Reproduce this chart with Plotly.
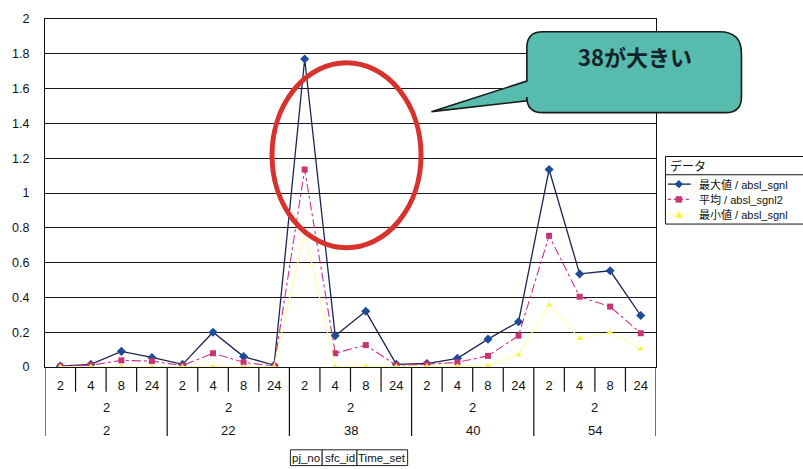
import plotly.graph_objects as go

# ---- data -------------------------------------------------------------
pj_no = ["2", "22", "38", "40", "54"]
sfc_id = ["2", "2", "2", "2", "2"]
time_set = ["2", "4", "8", "24"]

max_vals = [0.005, 0.015, 0.09, 0.055, 0.015, 0.20, 0.06, 0.01,
            1.77, 0.18, 0.32, 0.015, 0.02, 0.05, 0.16, 0.26,
            1.135, 0.535, 0.553, 0.296]
avg_vals = [0.004, 0.01, 0.038, 0.034, 0.008, 0.079, 0.027, 0.005,
            1.135, 0.079, 0.126, 0.01, 0.015, 0.027, 0.064, 0.18,
            0.754, 0.404, 0.347, 0.194]
min_vals = [0.001, 0.002, 0.002, 0.002, 0.002, 0.002, 0.002, 0.002,
            0.78, 0.003, 0.003, 0.003, 0.004, 0.005, 0.008, 0.07,
            0.357, 0.164, 0.198, 0.104]

series_names = ["最大値 / absl_sgnl", "平均 / absl_sgnl2", "最小値 / absl_sgnl"]
callout_text = "38が大きい"
field_buttons = ["pj_no", "sfc_id", "Time_set"]

tick_text = [t for _ in pj_no for t in time_set]
xpos = list(range(len(tick_text)))
n_per_group = len(time_set)

# ---- geometry of the plotting area (pixels) ------------------------------
W, H = 803, 469
PL, PR, PT, PB = 41, 656, 14, 367


def px(x):
    return (x - PL) / (PR - PL)


def py(y):
    return (PB - y) / (PB - PT)


def P(x, y):
    return f"{px(x):.5f},{py(y):.5f}"


JP = "Noto Sans CJK JP"
LAT = "Liberation Sans, Arial, sans-serif"
MIX = "Liberation Sans, Noto Sans CJK JP, sans-serif"


def label(x, y, text, xref="paper", xanchor="center", size=13, family=LAT,
          color="#111"):
    return dict(x=x, y=y, xref=xref, yref="paper", text=text, showarrow=False,
                xanchor=xanchor, yanchor="middle",
                font=dict(family=family, size=size, color=color))


fig = go.Figure()

fig.add_trace(go.Scatter(
    x=xpos, y=max_vals, name=series_names[0], mode="lines+markers",
    line=dict(color="#1c2552", width=1.3),
    marker=dict(symbol="diamond", size=7, color="#1d4b96"),
))
fig.add_trace(go.Scatter(
    x=xpos, y=avg_vals, name=series_names[1], mode="lines+markers",
    line=dict(color="#cc3388", width=1.1, dash="dashdot"),
    marker=dict(symbol="square", size=6, color="#c83577"),
))
fig.add_trace(go.Scatter(
    x=xpos, y=min_vals, name=series_names[2], mode="lines+markers",
    line=dict(color="#ffffa8", width=1.1),
    marker=dict(symbol="triangle-up", size=6, color="#f6f24a"),
))

shapes = []
annotations = []

# category dividers below the axis
for k in range(1, len(tick_text)):
    xb = k - 0.5
    y_end = py(437) if k % n_per_group == 0 else py(392)
    shapes.append(dict(type="line", xref="x", yref="paper", x0=xb, x1=xb,
                       y0=0, y1=y_end, line=dict(color="#111", width=1.2)))
for xb in (-0.5, len(tick_text) - 0.5):
    shapes.append(dict(type="line", xref="x", yref="paper", x0=xb, x1=xb,
                       y0=0, y1=py(437), line=dict(color="#111", width=1.2)))

# group labels: sfc_id and pj_no rows
for g, (pj, sf) in enumerate(zip(pj_no, sfc_id)):
    xc = g * n_per_group + (n_per_group - 1) / 2
    annotations.append(label(xc, py(408), sf, xref="x"))
    annotations.append(label(xc, py(431), pj, xref="x"))

# red ellipse
shapes.append(dict(type="circle", xref="paper", yref="paper",
                   x0=px(269.5), x1=px(419.5), y0=py(246), y1=py(58.5),
                   line=dict(color="#d8322f", width=5)))

# speech-bubble callout
L, R, T, B = 526, 742, 27, 109
r, rt = 16, 22
path = (f"M {P(L + r, T)} L {P(R - rt, T)} Q {P(R, T)} {P(R, T + rt)} "
        f"L {P(R, B - r)} Q {P(R, B)} {P(R - r, B)} "
        f"L {P(L + r, B)} Q {P(L, B)} {P(L, B - r)} "
        f"L {P(L, 97)} L {P(430, 108)} L {P(L, 77)} "
        f"L {P(L, T + r)} Q {P(L, T)} {P(L + r, T)} Z")
shapes.append(dict(type="path", xref="paper", yref="paper", path=path,
                   fillcolor="#57bbad", line=dict(color="#1a1a1a", width=1.6)))
annotations.append(label(px(635), py(52), f"<b>{callout_text}</b>", size=22,
                         family=JP, color="#14232a"))

# legend box
LX0, LX1, LY0, LY1 = 665.5, 806, 153.5, 222
shapes.append(dict(type="rect", xref="paper", yref="paper",
                   x0=px(LX0), x1=px(LX1), y0=py(LY1), y1=py(LY0),
                   fillcolor="white", line=dict(color="#111", width=1)))
shapes.append(dict(type="line", xref="paper", yref="paper",
                   x0=px(LX0), x1=px(LX1), y0=py(172), y1=py(172),
                   line=dict(color="#111", width=1)))
annotations.append(label(px(668), py(163), "データ", xanchor="left", size=12,
                         family=JP))

legend_rows = [181.5, 197, 212.5]
line_styles = [dict(color="#1c2552", width=1.3, dash="solid"),
               dict(color="#cc3388", width=1.1, dash="dot"),
               dict(color="#ffffa8", width=1.1, dash="solid")]
mx = 679
for i, (yy, name, ls) in enumerate(zip(legend_rows, series_names, line_styles)):
    shapes.append(dict(type="line", xref="paper", yref="paper",
                       x0=px(668), x1=px(691), y0=py(yy), y1=py(yy), line=ls))
    if i == 0:
        mk = (f"M {P(mx, yy - 4)} L {P(mx + 4, yy)} L {P(mx, yy + 4)} "
              f"L {P(mx - 4, yy)} Z")
        col = "#1d4b96"
    elif i == 1:
        mk = (f"M {P(mx - 3, yy - 3)} L {P(mx + 3, yy - 3)} L {P(mx + 3, yy + 3)} "
              f"L {P(mx - 3, yy + 3)} Z")
        col = "#c83577"
    else:
        mk = f"M {P(mx, yy - 3.5)} L {P(mx + 3.5, yy + 3)} L {P(mx - 3.5, yy + 3)} Z"
        col = "#f6f24a"
    shapes.append(dict(type="path", xref="paper", yref="paper", path=mk,
                       fillcolor=col, line=dict(color=col, width=0.5)))
    annotations.append(label(px(697), py(yy), name, xanchor="left", size=11,
                             family=MIX))

# pivot field buttons under the chart
bx = [288, 320, 355, 406]
for i, text in enumerate(field_buttons):
    shapes.append(dict(type="rect", xref="paper", yref="paper",
                       x0=px(bx[i]), x1=px(bx[i + 1]), y0=py(467), y1=py(451),
                       fillcolor="white", line=dict(color="#222", width=1)))
    annotations.append(label(px((bx[i] + bx[i + 1]) / 2), py(459.5), text,
                             size=11.5))

fig.update_layout(
    width=W, height=H,
    margin=dict(l=PL, r=W - PR, t=PT, b=H - PB, pad=0),
    paper_bgcolor="white", plot_bgcolor="white",
    showlegend=False,
    shapes=shapes, annotations=annotations,
    xaxis=dict(range=[-0.5, len(tick_text) - 0.5], tickmode="array",
               tickvals=xpos, ticktext=tick_text, ticks="",
               ticklabelstandoff=6, showgrid=False, zeroline=False,
               showline=True, mirror=True, linecolor="#111", linewidth=1.2,
               tickfont=dict(family=LAT, size=13, color="#111")),
    yaxis=dict(range=[0, 2], dtick=0.2, tick0=0, ticks="",
               ticklabelstandoff=12, showgrid=True, gridcolor="#1a1a1a",
               gridwidth=1.1, zeroline=False, showline=True, mirror=True,
               linecolor="#111", linewidth=1.2,
               tickfont=dict(family=LAT, size=12.5, color="#111")),
)

fig.write_html("out.html")
